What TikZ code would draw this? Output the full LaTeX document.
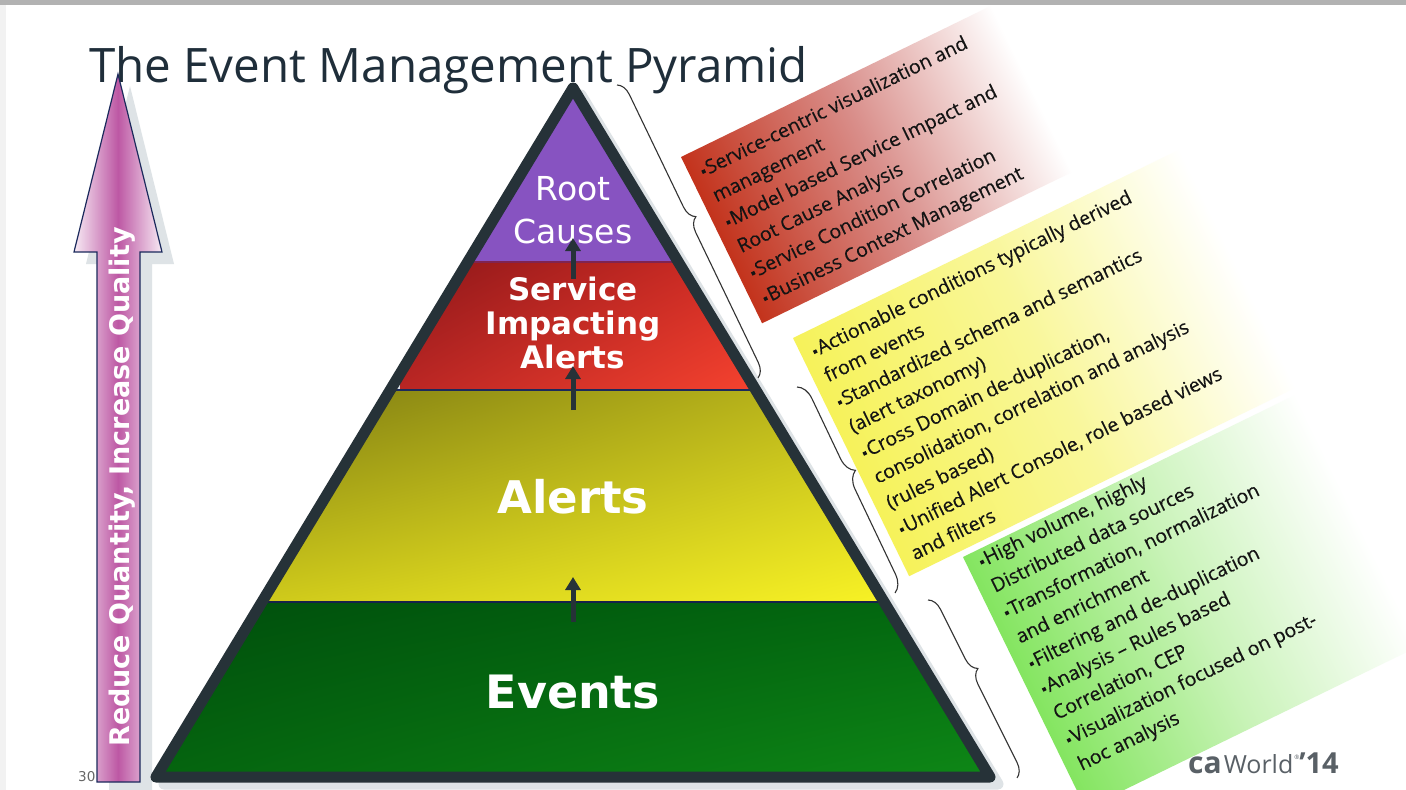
\documentclass[tikz,border=0pt]{standalone}
\usepackage{fontspec}
\setmainfont{Open Sans}
\newfontfamily\dejavu{DejaVu Sans}
\newfontfamily\boxfont[FakeBold=0.35,Ligatures=TeX]{Open Sans}
\usetikzlibrary{arrows.meta,decorations.pathreplacing,shadings}

\definecolor{slate}{HTML}{263238}
\definecolor{titlec}{HTML}{1F2E3A}
\definecolor{purp}{HTML}{8753C1}
\definecolor{shadowc}{HTML}{DEE3E6}
\definecolor{navy}{HTML}{1B2A5C}
\definecolor{magentac}{HTML}{BD58A4}
\definecolor{pinkedge}{HTML}{F7EAF4}
\definecolor{logoc}{HTML}{596066}
\definecolor{redTL}{HTML}{8C1719}
\definecolor{redTR}{HTML}{D62E26}
\definecolor{redBL}{HTML}{BA2624}
\definecolor{redBR}{HTML}{F6432F}
\definecolor{yelTL}{HTML}{7F7D12}
\definecolor{yelTR}{HTML}{C2BD1C}
\definecolor{yelBL}{HTML}{CFCA1B}
\definecolor{yelBR}{HTML}{F8F225}
\definecolor{grnTL}{HTML}{004E0C}
\definecolor{grnTR}{HTML}{036A10}
\definecolor{grnBL}{HTML}{05660F}
\definecolor{grnBR}{HTML}{0F8A17}
\definecolor{boxred}{HTML}{C3331C}
\definecolor{boxredm}{HTML}{D98E8A}
\definecolor{boxyel}{HTML}{F6F25A}
\definecolor{boxyelm}{HTML}{F9F79A}
\definecolor{boxgrn}{HTML}{84E560}
\definecolor{boxgrnm}{HTML}{C9F3B8}

\newcommand\bul{\makebox[5.5pt][l]{\raisebox{3.2pt}{\rule{3.6pt}{3.6pt}}}}

\begin{document}
\begin{tikzpicture}[x=1pt,y=-1pt,
  boxtext/.style={anchor=north west, inner sep=0pt, align=left,
    font=\boxfont\fontsize{19.5}{28.3}\selectfont, text=black!92},
  layerlbl/.style={text=white, inner sep=0pt},
  upar/.style={draw=slate, line width=5pt, -{Triangle[width=15pt,length=13pt]}},
  bracec/.style={decorate, line width=1.1pt, draw=black!80},
]
\useasboundingbox (0,0) rectangle (1406,790);
\fill[white] (0,0) rectangle (1406,790);
\fill[black!30] (0,0) rectangle (1406,5);
\fill[black!5] (0,5) rectangle (6,790);

% title
\node[anchor=base west, inner sep=0pt, text=titlec,
  font=\fontsize{47.5}{50}\selectfont] (title) at (89,82) {The Event Management Pyramid};

% left arrow with shadow
\fill[shadowc] (130,86) -- (174,264) -- (152,264) -- (152,790) -- (109,790) -- (109,264) -- (86,264) -- cycle;
\path[draw=navy, line width=1.2pt, left color=pinkedge, right color=pinkedge, middle color=magentac]
  (118,74) -- (162,252) -- (140,252) -- (140,782) -- (97,782) -- (97,252) -- (74,252) -- cycle;
\node[rotate=90, inner sep=0pt, text=white, font=\dejavu\bfseries\fontsize{27}{27}\selectfont]
  (arrowtxt) at (122.5,487) {Reduce Quantity, Increase Quality};

% page number
\node[anchor=base west, inner sep=0pt, text=black!60, font=\dejavu\fontsize{13.5}{14}\selectfont]
  (pagenum) at (78,781) {30};

% pyramid shadow
\draw[shadowc, fill=shadowc, line width=11pt, line join=round] (581,95) -- (998,784) -- (164,784) -- cycle;

% pyramid layers
\coordinate (A) at (573,88);
\coordinate (B) at (156,777);
\coordinate (C) at (990,777);
\begin{scope}
  \clip (A) -- (B) -- (C) -- cycle;
  \fill[purp] (380,60) rectangle (770,262);
  \shade[upper left=redTL, upper right=redTR, lower left=redBL, lower right=redBR] (400,262) rectangle (760,390);
  \shade[upper left=yelTL, upper right=yelTR, lower left=yelBL, lower right=yelBR] (265,390) rectangle (885,602);
  \shade[upper left=grnTL, upper right=grnTR, lower left=grnBL, lower right=grnBR] (150,602) rectangle (1000,790);
  \draw[draw=purp!60!red!70!black, line width=1.6pt] (380,262) -- (770,262);
  \draw[draw=navy, line width=1.8pt] (300,390) -- (850,390);
  \draw[draw=navy!80!black, line width=2.4pt] (150,602) -- (1000,602);
\end{scope}
\draw[draw=slate, line width=11pt, line join=round] (A) -- (B) -- (C) -- cycle;

% layer labels
\node[layerlbl, anchor=north, align=center, font=\dejavu\fontsize{33}{43}\selectfont]
  (rootc) at (573,175.9) {Root\\Causes};
\node[layerlbl, anchor=north, align=center, font=\dejavu\bfseries\fontsize{31}{34}\selectfont]
  (sia) at (573,276.4) {Service\\Impacting\\Alerts};
\node[layerlbl, anchor=base, font=\dejavu\bfseries\fontsize{45}{45}\selectfont]
  (alerts) at (573,513) {Alerts};
\node[layerlbl, anchor=base, font=\dejavu\bfseries\fontsize{46}{46}\selectfont]
  (events) at (573,708) {Events};

% small arrows between layers
\coordinate (a1s) at (573,279); \coordinate (a1e) at (573,238);
\coordinate (a2s) at (573,410); \coordinate (a2e) at (573,366);
\coordinate (a3s) at (573,622); \coordinate (a3e) at (573,577);
\draw[upar] (a1s) -- (a1e);
\draw[upar] (a2s) -- (a2e);
\draw[upar] (a3s) -- (a3e);

% red box
\begin{scope}[transform canvas={shift={(681,157)},rotate=26}]
  \shade[left color=boxred, right color=white, middle color=boxredm] (0,0) rectangle (345,185);
  \node[boxtext] (redtxt) at (12,13) {\bul Service-centric visualization and\\
    management\\
    \bul Model based Service Impact and\\
    Root Cause Analysis\\
    \bul Service Condition Correlation\\
    \bul Business Context Management};
\end{scope}

% yellow box
\begin{scope}[transform canvas={shift={(793,338)},rotate=26}]
  \shade[left color=boxyel, right color=white, middle color=boxyelm] (0,0) rectangle (430,265);
  \node[boxtext] (yeltxt) at (12,12) {\bul Actionable conditions typically derived\\
    from events\\
    \bul Standardized schema and semantics\\
    (alert taxonomy)\\
    \bul Cross Domain de-duplication,\\
    consolidation, correlation and analysis\\
    (rules based)\\
    \bul Unified Alert Console, role based views\\
    and filters};
\end{scope}

% green box
\begin{scope}[transform canvas={shift={(963,557)},rotate=26}]
  \shade[left color=boxgrn, right color=white, middle color=boxgrnm] (0,0) rectangle (370,280);
  \node[boxtext] (grntxt) at (13,3) {\bul High volume, highly\\
    Distributed data sources\\
    \bul Transformation, normalization\\
    and enrichment\\
    \bul Filtering and de-duplication\\
    \bul Analysis – Rules based\\
    Correlation, CEP\\
    \bul Visualization focused on post-\\
    hoc analysis};
\end{scope}

% braces
\coordinate (b1s) at (617,85);  \coordinate (b1e) at (758,378);
\coordinate (b2s) at (797,387); \coordinate (b2e) at (895,593);
\coordinate (b3s) at (928,600); \coordinate (b3e) at (1017,778);
\draw[bracec, decoration={brace, amplitude=14pt, aspect=0.47}] (b1s) -- (b1e);
\draw[bracec, decoration={brace, amplitude=17pt, aspect=0.44}] (b2s) -- (b2e);
\draw[bracec, decoration={brace, amplitude=14pt, aspect=0.42}] (b3s) -- (b3e);

% logo
\node[anchor=base west, inner sep=0pt, text=logoc] (logo) at (1188,773)
  {{\fontsize{30}{30}\selectfont\bfseries ca}\kern2pt{\fontsize{25}{25}\selectfont World}\kern1pt\raisebox{14pt}{\fontsize{6}{6}\selectfont\textregistered}{\fontsize{29}{29}\selectfont\bfseries ’14}};
\end{tikzpicture}
\end{document}
